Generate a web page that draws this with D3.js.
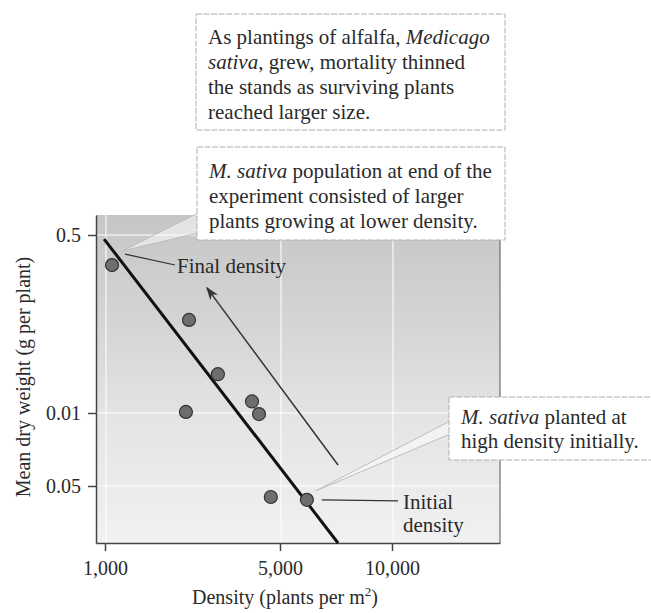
<!DOCTYPE html>
<html>
<head>
<meta charset="utf-8">
<script src="https://cdn.jsdelivr.net/npm/d3@7"></script>
<style>
body { margin: 0; background: #fff; }
text { font-family: "Liberation Serif", "Times New Roman", serif; fill: #2a2a2a; }
</style>
</head>
<body>
<div id="chart"></div>
<script>
// plants per m2 and mean dry weight (g per plant)
var density = [1160, 2920, 3580, 4360, 4520, 2850, 4790, 6200]
var weight = [0.381, 0.232, 0.142, 0.111, 0.099, 0.101, 0.045, 0.0438]

var xTicks = [1000, 5000, 10000]
var xTickLabels = ["1,000", "5,000", "10,000"]
var yTicks = [0.5, 0.1, 0.05]
var yTickLabels = ["0.5", "0.01", "0.05"]

// thinning line and the arrow
var lineDensity = [980, 7590]
var lineWeight = [0.482, 0.029]
var arrowDensity = [7590, 3330]
var arrowWeight = [0.061, 0.31]

var width = 651,
height = 613,
plot = {left: 96, right: 500, top: 215, bottom: 543}

var svg = d3.select('#chart')
	.append("svg")
	.attr("width", width)
	.attr("height", height)

var x = d3.scaleLinear()
	.domain([800, 1000, 5000, 10000, 14800])
	.range([plot.left, 105, 280, 392, plot.right])

var y = d3.scaleLog()
	.domain([0.6, 0.5, 0.1, 0.05, 0.029])
	.range([plot.top, 235, 413, 486, plot.bottom])

var defs = svg.append("defs")
var grad = defs.append("linearGradient")
	.attr("id", "bg")
	.attr("x1", 0).attr("y1", 0).attr("x2", 0).attr("y2", 1)
grad.append("stop").attr("offset", "0%").attr("stop-color", "#c6c6c6")
grad.append("stop").attr("offset", "30%").attr("stop-color", "#d3d3d3")
grad.append("stop").attr("offset", "62%").attr("stop-color", "#e4e4e4")
grad.append("stop").attr("offset", "100%").attr("stop-color", "#f1f1f1")

defs.append("marker")
	.attr("id", "head")
	.attr("viewBox", "0 0 10 10")
	.attr("refX", 9).attr("refY", 5)
	.attr("markerWidth", 9).attr("markerHeight", 9)
	.attr("orient", "auto")
	.append("path")
	.attr("d", "M0,1.5 L10,5 L0,8.5 L3,5 Z")
	.attr("fill", "#333")

svg.append("rect")
	.attr("x", plot.left)
	.attr("y", plot.top)
	.attr("width", plot.right - plot.left)
	.attr("height", plot.bottom - plot.top)
	.attr("fill", "url(#bg)")

// faint white grid
svg.append("g").selectAll("line")
	.data(xTicks)
	.enter().append("line")
	.attr("x1", function(d) { return x(d) + 1 })
	.attr("x2", function(d) { return x(d) + 1 })
	.attr("y1", plot.top)
	.attr("y2", plot.bottom)
	.attr("stroke", "#fff").attr("stroke-width", 1.5).attr("opacity", 0.7)
svg.append("g").selectAll("line")
	.data(yTicks)
	.enter().append("line")
	.attr("x1", plot.left)
	.attr("x2", plot.right)
	.attr("y1", function(d) { return y(d) })
	.attr("y2", function(d) { return y(d) })
	.attr("stroke", "#fff").attr("stroke-width", 1.5).attr("opacity", 0.7)

// plot border: right edge
svg.append("line")
	.attr("x1", plot.right).attr("x2", plot.right)
	.attr("y1", plot.top).attr("y2", plot.bottom)
	.attr("stroke", "#555").attr("stroke-width", 1)

var yAxis = svg.append("g")
	.attr("transform", "translate(" + plot.left + ",0)")
	.call(d3.axisLeft(y).tickValues(yTicks).tickSize(8).tickSizeOuter(0).tickPadding(7)
		.tickFormat(function(d, i) { return yTickLabels[i] }))
var xAxis = svg.append("g")
	.attr("transform", "translate(0," + plot.bottom + ")")
	.call(d3.axisBottom(x).tickValues(xTicks).tickSize(8).tickSizeOuter(0).tickPadding(10)
		.tickFormat(function(d, i) { return xTickLabels[i] }))
svg.selectAll(".tick text")
	.style("font-family", '"Liberation Serif", serif')
	.style("font-size", "20px")
	.attr("fill", "#2a2a2a")
svg.selectAll(".tick line").attr("stroke", "#444").attr("stroke-width", 1.5)
svg.selectAll(".domain").attr("stroke", "#444").attr("stroke-width", 1.5)

svg.append("text")
	.attr("transform", "translate(30," + 377 + ") rotate(-90)")
	.attr("text-anchor", "middle")
	.style("font-size", "20px")
	.text("Mean dry weight (g per plant)")

var xt = svg.append("text")
	.attr("x", 285).attr("y", 604)
	.attr("text-anchor", "middle")
	.style("font-size", "20px")
xt.append("tspan").text("Density (plants per m")
xt.append("tspan").attr("dy", -8).style("font-size", "13px").text("2")
xt.append("tspan").attr("dy", 8).text(")")

// thinning line
svg.append("line")
	.attr("x1", x(lineDensity[0])).attr("y1", y(lineWeight[0]))
	.attr("x2", x(lineDensity[1])).attr("y2", y(lineWeight[1]))
	.attr("stroke", "#111").attr("stroke-width", 3)

svg.append("line")
	.attr("x1", x(arrowDensity[0])).attr("y1", y(arrowWeight[0]))
	.attr("x2", x(arrowDensity[1])).attr("y2", y(arrowWeight[1]))
	.attr("stroke", "#333").attr("stroke-width", 1.5)
	.attr("marker-end", "url(#head)")

svg.append("g").selectAll("circle")
	.data(density)
	.enter().append("circle")
	.attr("cx", function(d) { return x(d) })
	.attr("cy", function(d, i) { return y(weight[i]) })
	.attr("r", 6.5)
	.attr("fill", "#6e6e6e")
	.attr("stroke", "#333")
	.attr("stroke-width", 1.2)

// leader lines + labels
var fx = x(density[0]), fy = y(weight[0])
svg.append("line")
	.attr("x1", fx + 13).attr("y1", fy - 11)
	.attr("x2", 175).attr("y2", 265)
	.attr("stroke", "#333").attr("stroke-width", 1.2)
svg.append("text").attr("x", 177).attr("y", 273).style("font-size", "21px").text("Final density")

var ix = x(density[7]), iy = y(weight[7])
svg.append("line")
	.attr("x1", ix + 15).attr("y1", iy)
	.attr("x2", 398).attr("y2", iy + 1)
	.attr("stroke", "#333").attr("stroke-width", 1.2)
svg.append("text").attr("x", 403).attr("y", 509).style("font-size", "21px").text("Initial")
svg.append("text").attr("x", 403).attr("y", 532).style("font-size", "21px").text("density")

// callout boxes
function wedge(pts) {
	svg.append("path")
		.attr("d", "M" + pts.join("L") + "Z")
		.attr("fill", "#fff").attr("fill-opacity", 0.5)
		.attr("stroke", "#bdbdbd").attr("stroke-width", 1)
}
function box(x0, y0, w, h, lines, lineH) {
	svg.append("rect")
		.attr("x", x0).attr("y", y0).attr("width", w).attr("height", h)
		.attr("fill", "#fff").attr("stroke", "#b0b0b0").attr("stroke-width", 1)
		.attr("stroke-dasharray", "6,1.5")
	lines.forEach(function(parts, i) {
		var t = svg.append("text")
			.attr("x", x0 + 12).attr("y", y0 + lineH.first + i * lineH.step)
			.style("font-size", "21px")
		parts.forEach(function(p) {
			t.append("tspan").style("font-style", p[1] ? "italic" : "normal").text(p[0])
		})
	})
}

box(196, 14, 309, 116, [
	[["As plantings of alfalfa, ", 0], ["Medicago", 1]],
	[["sativa", 1], [", grew, mortality thinned", 0]],
	[["the stands as surviving plants", 0]],
	[["reached larger size.", 0]]
], {first: 30, step: 25})

wedge([[198, 213], [198, 233], [x(lineDensity[0]) + 18, y(lineWeight[0]) + 12]])
box(197, 147, 308, 93, [
	[["M. sativa", 1], [" population at end of the", 0]],
	[["experiment consisted of larger", 0]],
	[["plants growing at lower density.", 0]]
], {first: 31, step: 25})

wedge([[450, 421], [450, 434], [ix + 9, iy - 9]])
box(449, 397, 210, 63, [
	[["M. sativa", 1], [" planted at", 0]],
	[["high density initially.", 0]]
], {first: 27, step: 24})
</script>
</body>
</html>
